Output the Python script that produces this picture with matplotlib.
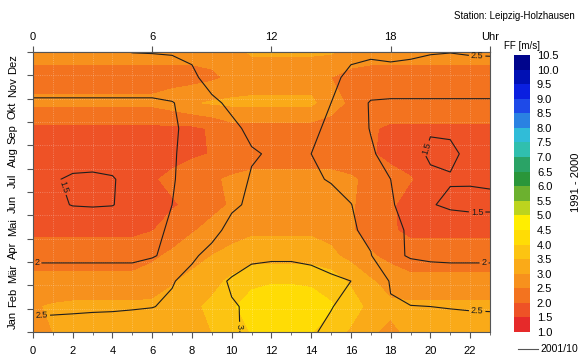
import numpy as np
import matplotlib
matplotlib.use("Agg")
import matplotlib.pyplot as plt
from matplotlib.colors import ListedColormap, BoundaryNorm
from matplotlib.lines import Line2D

plt.rcParams['font.family'] = ['Liberation Sans', 'DejaVu Sans']

hours = list(range(24))
months = ['Jan', 'Feb', 'Mär', 'Apr', 'Mai', 'Jun', 'Jul', 'Aug', 'Sep', 'Okt', 'Nov', 'Dez']

# mean wind speed 1991-2000 (filled), rows Jan..Dez, columns 0..23 h
ff_1991 = [
    [2.9, 3.0, 3.1, 3.1, 3.1, 3.1, 3.1, 3.2, 3.3, 3.5, 3.8, 4.02, 4.05, 4.05, 4.02, 3.8, 3.4, 3.05, 2.9, 3.1, 3.15, 3.1, 3.05, 3.0],
    [2.95, 3.05, 3.1, 3.1, 3.1, 3.1, 3.1, 3.2, 3.4, 3.6, 3.95, 4.15, 4.2, 4.2, 4.15, 4.05, 3.8, 3.3, 3.1, 3.1, 3.1, 3.1, 3.1, 3.1],
    [2.65, 2.65, 2.65, 2.65, 2.65, 2.65, 2.75, 2.95, 3.15, 3.35, 3.6, 3.92, 3.97, 3.97, 3.95, 3.8, 3.4, 3.05, 2.8, 2.65, 2.65, 2.65, 2.65, 2.65],
    [2.25, 2.25, 2.25, 2.25, 2.25, 2.25, 2.4, 2.6, 2.8, 3.0, 3.15, 3.25, 3.25, 3.25, 3.25, 3.1, 2.85, 2.55, 2.35, 2.2, 2.2, 2.2, 2.2, 2.2],
    [1.9, 1.9, 1.9, 1.9, 1.9, 1.9, 1.98, 2.2, 2.45, 2.65, 2.8, 2.92, 2.92, 2.92, 2.92, 2.85, 2.55, 2.3, 2.05, 1.9, 1.9, 1.9, 1.9, 1.9],
    [1.85, 1.85, 1.85, 1.85, 1.85, 1.85, 1.85, 1.95, 2.1, 2.35, 2.55, 2.7, 2.7, 2.7, 2.7, 2.7, 2.55, 2.3, 2.05, 1.85, 1.85, 1.85, 1.85, 1.85],
    [1.85, 1.85, 1.85, 1.85, 1.85, 1.85, 1.95, 2.1, 2.3, 2.45, 2.55, 2.65, 2.65, 2.65, 2.65, 2.65, 2.55, 2.4, 2.2, 2.02, 1.85, 1.85, 1.85, 1.85],
    [1.85, 1.85, 1.85, 1.85, 1.85, 1.85, 1.85, 1.85, 1.92, 2.02, 2.25, 2.25, 2.25, 2.25, 2.25, 2.25, 2.25, 2.05, 1.85, 1.85, 1.85, 1.85, 1.85, 1.85],
    [1.9, 1.9, 1.9, 1.9, 1.9, 1.9, 1.9, 1.9, 1.9, 2.05, 2.3, 2.3, 2.3, 2.3, 2.3, 2.3, 2.3, 2.05, 1.92, 1.92, 1.92, 1.92, 1.92, 1.92],
    [2.6, 2.6, 2.6, 2.6, 2.6, 2.6, 2.6, 2.75, 2.95, 3.05, 3.1, 3.1, 3.1, 3.1, 3.1, 2.7, 2.4, 2.3, 2.3, 2.3, 2.3, 2.3, 2.3, 2.3],
    [2.3, 2.3, 2.3, 2.3, 2.3, 2.3, 2.3, 2.3, 2.3, 2.4, 2.6, 2.75, 2.75, 2.75, 2.75, 2.5, 2.3, 2.3, 2.3, 2.3, 2.3, 2.3, 2.3, 2.3],
    [2.7, 2.7, 2.7, 2.7, 2.7, 2.7, 2.7, 2.7, 2.7, 2.7, 2.85, 3.05, 3.05, 3.05, 3.05, 3.05, 2.85, 2.7, 2.7, 2.7, 2.7, 2.7, 2.7, 2.7],
]

# 2001/10 (contour lines)
ff_2001 = [
    [2.7, 2.7, 2.7, 2.7, 2.7, 2.7, 2.7, 2.75, 2.8, 2.9, 2.93, 3.1, 3.1, 3.1, 3.05, 2.9, 2.85, 2.75, 2.7, 2.7, 2.7, 2.7, 2.7, 2.7],
    [2.38, 2.4, 2.42, 2.44, 2.45, 2.47, 2.49, 2.55, 2.7, 2.85, 2.97, 3.05, 3.1, 3.1, 3.08, 3.02, 2.85, 2.6, 2.52, 2.51, 2.5, 2.48, 2.46, 2.45],
    [2.2, 2.2, 2.2, 2.2, 2.2, 2.2, 2.3, 2.48, 2.6, 2.85, 3.05, 3.1, 3.1, 3.1, 3.1, 3.1, 3.0, 2.7, 2.48, 2.3, 2.25, 2.2, 2.2, 2.2],
    [1.92, 1.92, 1.92, 1.92, 1.92, 1.92, 1.97, 2.1, 2.45, 2.6, 2.75, 2.95, 2.97, 2.97, 2.94, 2.75, 2.6, 2.52, 2.1, 1.96, 1.92, 1.92, 1.92, 1.92],
    [1.8, 1.75, 1.7, 1.7, 1.72, 1.8, 1.92, 2.05, 2.2, 2.4, 2.6, 2.7, 2.75, 2.75, 2.7, 2.65, 2.55, 2.4, 2.1, 1.95, 1.8, 1.7, 1.7, 1.7],
    [1.6, 1.55, 1.49, 1.48, 1.49, 1.6, 1.8, 2.0, 2.15, 2.3, 2.45, 2.55, 2.6, 2.6, 2.58, 2.55, 2.51, 2.3, 2.05, 1.8, 1.52, 1.45, 1.42, 1.42],
    [1.6, 1.52, 1.47, 1.46, 1.48, 1.6, 1.8, 1.98, 2.1, 2.25, 2.4, 2.52, 2.55, 2.55, 2.52, 2.49, 2.35, 2.15, 2.0, 1.8, 1.58, 1.52, 1.53, 1.55],
    [1.7, 1.65, 1.6, 1.6, 1.62, 1.7, 1.85, 1.97, 2.1, 2.25, 2.4, 2.48, 2.52, 2.53, 2.5, 2.4, 2.25, 2.05, 1.85, 1.65, 1.44, 1.45, 1.56, 1.6],
    [1.8, 1.75, 1.75, 1.75, 1.75, 1.75, 1.85, 1.95, 2.1, 2.25, 2.45, 2.55, 2.6, 2.6, 2.55, 2.45, 2.2, 1.98, 1.85, 1.75, 1.53, 1.54, 1.7, 1.75],
    [1.95, 1.95, 1.95, 1.95, 1.95, 1.95, 1.95, 1.98, 2.15, 2.45, 2.55, 2.6, 2.65, 2.62, 2.58, 2.5, 2.2, 1.97, 1.95, 1.95, 1.95, 1.95, 1.95, 1.95],
    [2.2, 2.2, 2.2, 2.2, 2.2, 2.2, 2.2, 2.3, 2.45, 2.6, 2.65, 2.65, 2.65, 2.65, 2.65, 2.55, 2.45, 2.25, 2.25, 2.25, 2.25, 2.25, 2.25, 2.25],
    [2.45, 2.45, 2.45, 2.45, 2.45, 2.51, 2.52, 2.53, 2.55, 2.65, 2.65, 2.65, 2.65, 2.65, 2.65, 2.6, 2.55, 2.6, 2.66, 2.6, 2.53, 2.51, 2.54, 2.55],
]

ff_levels = np.arange(1.0, 10.51, 0.5)
ff_colors = ['#e62a2a', '#ee5226', '#f3731f', '#f7911d', '#faaa18', '#fcc412', '#ffdc05', '#ffee00',
             '#bcd41e', '#6cb12f', '#2a963a', '#2aa366', '#30bfae', '#30bcd8', '#2a82e2', '#1e4ae8',
             '#0a1fe0', '#0010b4', '#00058c']
line_levels = [1.5, 2.0, 2.5, 3.0]

cmap = ListedColormap(ff_colors)
norm = BoundaryNorm(ff_levels, cmap.N)

x = np.array(hours)
y = np.linspace(0.5, 12.5, len(months))
X, Y = np.meshgrid(x, y)

fig = plt.figure(figsize=(5.83, 3.58), dpi=100)
ax = fig.add_axes([0.0566, 0.0726, 0.7839, 0.7821])

ax.contourf(X, Y, np.array(ff_1991), levels=ff_levels, cmap=cmap, norm=norm)
cs = ax.contour(X, Y, np.array(ff_2001), levels=line_levels, colors='#1e1e1e', linewidths=0.8)
ax.clabel(cs, fmt='%g', fontsize=6.5, inline=True, inline_spacing=2,
          manual=[(1.5, 6.7), (0.2, 3.4), (0.45, 1.1), (10.6, 0.75), (22.35, 12.3),
                  (19.7, 8.4), (22.35, 5.7), (22.7, 3.4), (22.35, 1.3)])

ax.set_xlim(0, 23)
ax.set_ylim(0.5, 12.5)
ax.set_xticks(range(0, 23, 2))
ax.set_xticks(range(24), minor=True)
ax.set_yticks(np.arange(0.5, 12.6, 1))
ax.set_yticklabels([])
ax.set_yticks(np.arange(1, 13), minor=True)
ax.set_yticklabels(months, minor=True, rotation=90, va='center')
ax.tick_params(axis='y', which='minor', length=0, pad=11, labelsize=8)
ax.tick_params(axis='y', which='major', length=4, color='#555555')
ax.tick_params(axis='x', which='major', length=4, labelsize=8, color='#555555', pad=6)
ax.tick_params(axis='x', which='minor', length=2.5, color='#555555')
ax.grid(which='both', axis='x', color='white', alpha=0.35, ls=':', lw=0.6)
ax.grid(which='major', axis='y', color='white', alpha=0.35, ls=':', lw=0.6)
for s in ax.spines.values():
    s.set_color('#555555')
    s.set_linewidth(0.8)

top = ax.secondary_xaxis('top')
top.set_xticks([0, 6, 12, 18, 23])
top.set_xticklabels(['0', '6', '12', '18', 'Uhr'])
top.tick_params(length=4, labelsize=8, color='#555555', pad=3)
top.spines['top'].set_color('#555555')

cax = fig.add_axes([0.8816, 0.0726, 0.0274, 0.7737])
cb = fig.colorbar(plt.cm.ScalarMappable(norm=norm, cmap=cmap), cax=cax, ticks=ff_levels)
cb.set_ticklabels([f'{v:.1f}' for v in ff_levels])
cb.ax.tick_params(length=0, labelsize=8, pad=5)
cb.outline.set_visible(False)
cax.set_title('FF [m/s]', fontsize=7, pad=4)

fig.text(0.986, 0.955, 'Station: Leipzig-Holzhausen', ha='right', va='center', fontsize=7)
fig.text(0.997, 0.49, '1991 - 2000', rotation=90, ha='right', va='center', fontsize=8)
fig.add_artist(Line2D([0.888, 0.922], [0.025, 0.025], color='#555555', lw=0.8))
fig.text(0.927, 0.025, '2001/10', ha='left', va='center', fontsize=7.5)

fig.savefig('out.png', dpi=100)
